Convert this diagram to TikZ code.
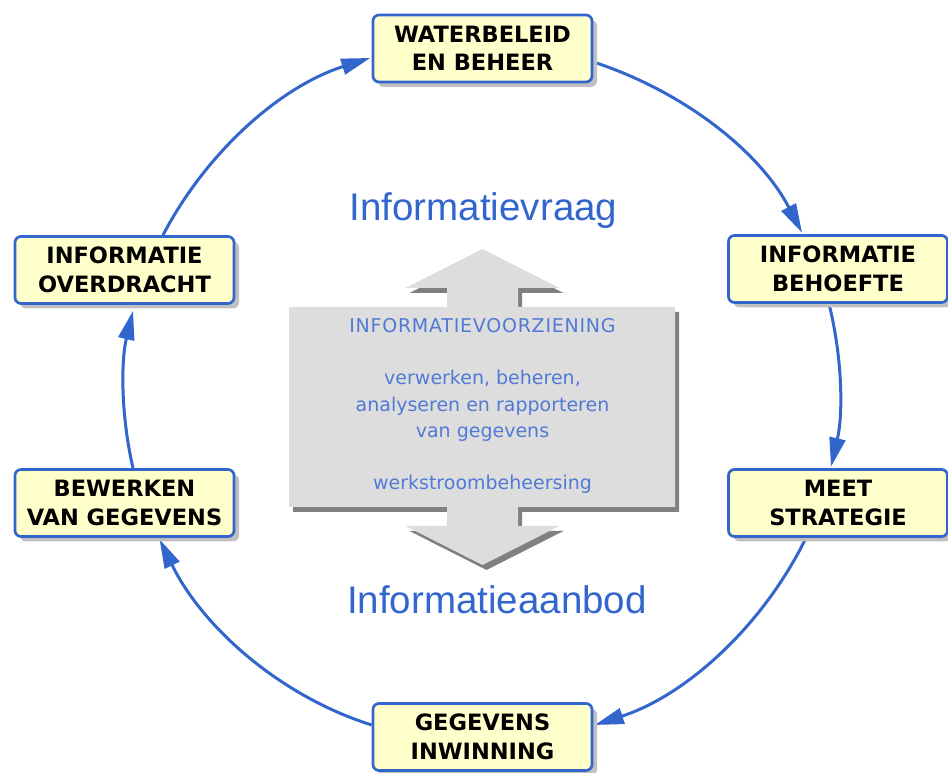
\documentclass[tikz,border=0pt]{standalone}
\usepackage{fontspec}
\setmainfont{DejaVu Sans}
\newfontfamily\verd{DejaVu Sans}
\newfontfamily\verdspaced{DejaVu Sans}[LetterSpace=4]
\newfontfamily\arialfont{Liberation Sans}
\usetikzlibrary{arrows.meta,shadows,backgrounds}
\definecolor{lineblue}{RGB}{51,102,204}
\definecolor{boxfill}{RGB}{255,255,204}
\definecolor{boxshadow}{RGB}{192,192,192}
\definecolor{graybody}{RGB}{221,221,221}
\definecolor{grayshadow}{RGB}{128,128,128}
\definecolor{titleblue}{RGB}{51,102,204}
\definecolor{innerblue}{RGB}{80,122,214}
\tikzset{
  box/.style={draw=lineblue, line width=2.7pt, fill=boxfill, rounded corners=6pt,
    minimum width=219pt, minimum height=67pt, inner sep=0pt, align=center,
    font=\verd\bfseries\fontsize{22.5}{28.5}\selectfont, text=black,
    drop shadow={shadow xshift=5pt, shadow yshift=-5pt, fill=boxshadow, opacity=1}},
  conn/.style={draw=lineblue, line width=3pt,
    -{Triangle[length=29pt,width=16pt]}},
  title/.style={font=\arialfont\fontsize{38.5}{40}\selectfont, text=titleblue, inner sep=0pt, anchor=base},
  inner/.style={font=\verd\fontsize{19}{26.2}\selectfont, text=innerblue, align=center, inner sep=0pt}
}
\begin{document}
\begin{tikzpicture}[x=1pt,y=1pt]
\useasboundingbox (0,0) rectangle (948,773);
% central double arrow with shadow
\fill[grayshadow, shift={(4,-5)}] (482.5,524) -- (559.5,485) -- (518,485) -- (518,466) -- (675,466) -- (675,266) -- (518,266) -- (518,247) -- (559.5,247) -- (482.5,208) -- (405.5,247) -- (447,247) -- (447,266) -- (289,266) -- (289,466) -- (447,466) -- (447,485) -- (405.5,485) -- cycle;
\fill[graybody] (482.5,524) -- (559.5,485) -- (518,485) -- (518,466) -- (675,466) -- (675,266) -- (518,266) -- (518,247) -- (559.5,247) -- (482.5,208) -- (405.5,247) -- (447,247) -- (447,266) -- (289,266) -- (289,466) -- (447,466) -- (447,485) -- (405.5,485) -- cycle;
\node[inner] (iv) at (482.5,367) {{\verdspaced INFORMATIEVOORZIENING}\\[26.2pt]verwerken, beheren,\\analyseren en rapporteren\\van gegevens\\[26.2pt]werkstroombeheersing};
\node[title] (fv) at (483.5,552) {Informatievraag};
\node[title] (fa) at (497,159) {Informatieaanbod};
% boxes
\node[box] (wb) at (482.5,724.5) {WATERBELEID\\EN BEHEER};
\node[box] (ib) at (838,504) {INFORMATIE\\BEHOEFTE};
\node[box] (ms) at (838,270) {MEET\\STRATEGIE};
\node[box] (gi) at (482.5,36) {GEGEVENS\\INWINNING};
\node[box] (bg) at (124.5,270) {BEWERKEN\\VAN GEGEVENS};
\node[box] (io) at (124.5,503) {INFORMATIE\\OVERDRACHT};
% connectors
\begin{scope}[on background layer]
\draw[conn] ([yshift=-13.5pt]wb.east) to[out=-18,in=117.5,looseness=0.88] ([xshift=-36pt,yshift=1.4pt]ib.north);
\draw[conn] ([xshift=-9pt]ib.south) to[out=-76,in=77,looseness=0.86] ([xshift=-7pt,yshift=1.4pt]ms.north);
\draw[conn] ([xshift=-32pt]ms.south) to[out=-116,in=18,looseness=0.88] ([xshift=1.4pt,yshift=12pt]gi.east);
\draw[conn] ([yshift=12pt]gi.west) to[out=162.5,in=-64,looseness=0.88] ([xshift=35pt,yshift=-1.4pt]bg.south);
\draw[conn] ([xshift=8.5pt]bg.north) to[out=103,in=-103.5,looseness=0.86] ([xshift=8.5pt,yshift=-6pt]io.south);
\draw[conn] ([xshift=38.5pt]io.north) to[out=62.5,in=-162.5,looseness=0.88] ([xshift=-1.4pt,yshift=-9.5pt]wb.west);
\end{scope}
\end{tikzpicture}
\end{document}
